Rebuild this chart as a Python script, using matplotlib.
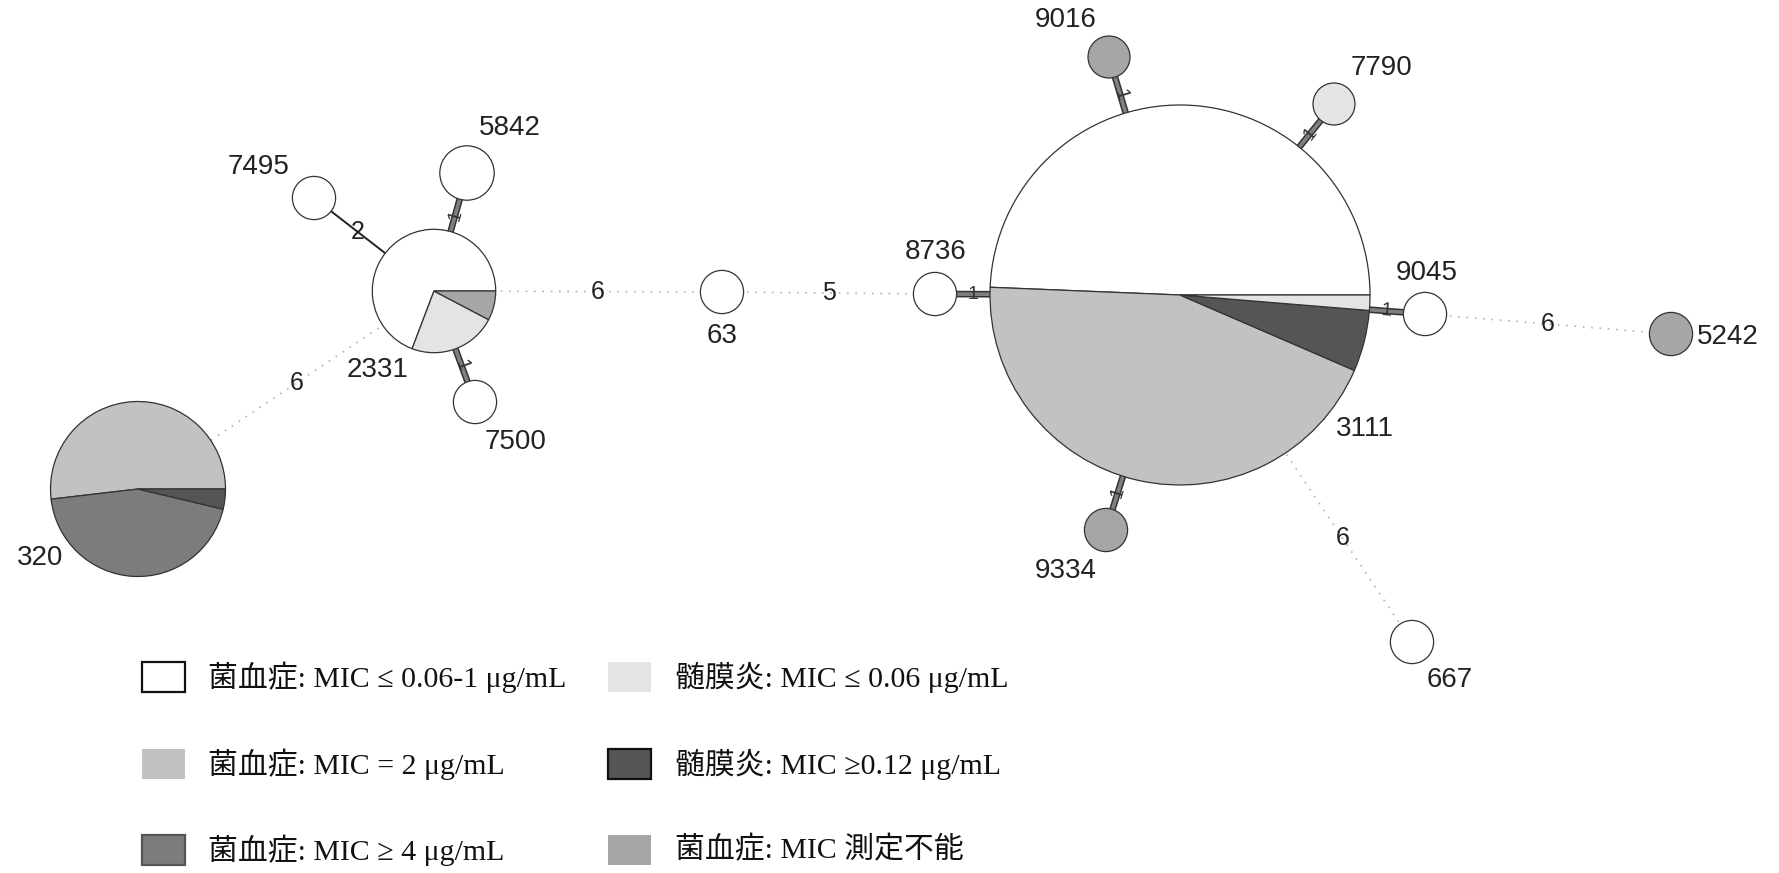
"""
MST 网络图（饼图节点）复刻
"""

import numpy as np
import matplotlib

matplotlib.use("Agg")
from matplotlib import pyplot as plt
from matplotlib.patches import Rectangle

W, H = 1779, 873

# 类别（图例）
categories = [
    "菌血症: MIC ≤ 0.06-1 μg/mL",
    "髄膜炎: MIC ≤ 0.06 μg/mL",
    "菌血症: MIC = 2 μg/mL",
    "髄膜炎: MIC ≥0.12 μg/mL",
    "菌血症: MIC ≥ 4 μg/mL",
    "菌血症: MIC 測定不能",
]
category_colors = ["#ffffff", "#e4e4e4", "#c2c2c2", "#555555", "#7c7c7c", "#a6a6a6"]
legend_edges = ["#111111", "none", "none", "#111111", "#555555", "none"]

# 节点（ST）及其组成：类别索引 + 分离株数（按饼图绘制顺序）
node_names = ["7495", "5842", "2331", "7500", "320", "63", "8736",
              "3111", "9016", "7790", "9045", "5242", "9334", "667"]
node_cats = [[0], [0], [0, 1, 5], [0], [2, 4, 3], [0], [0],
             [0, 2, 3, 1], [5], [1], [0], [5], [5], [0]]
node_counts = [[1], [2], [9, 3, 1], [1], [14, 12, 1], [1], [1],
               [38, 34, 4, 1], [1], [1], [1], [1], [1], [1]]

# 布局（像素坐标，左上为原点）
node_x = [314, 467, 434, 475, 138, 722, 935, 1180, 1109, 1334, 1425, 1671, 1106, 1412]
node_y = [198, 173, 291, 402, 489, 292, 294, 295, 57, 104, 314, 334, 530, 642]
node_r = [21.6, 27.2, 61.7, 21.6, 87.5, 21.6, 21.6, 190, 21, 21, 21.6, 21.6, 21.6, 21.6]
label_dx = [-55, 43, -56, 41, -98, 0, 1, 185, -43, 48, 2, 57, -40, 38]
label_dy = [-31, -45, 79, 40, 69, 44, -42, 134, -37, -36, -41, 3, 41, 38]

# 边：起点、终点、等位基因差异数
edge_src = ["7495", "5842", "7500", "2331", "2331", "63", "8736",
            "3111", "3111", "3111", "3111", "9045", "3111"]
edge_dst = ["2331", "2331", "2331", "63", "320", "8736", "3111",
            "9016", "7790", "9045", "9334", "5242", "667"]
edge_dist = [2, 1, 1, 6, 6, 5, 1, 1, 1, 1, 1, 6, 6]

sans = ["Liberation Sans", "DejaVu Sans"]
serif_cjk = ["Liberation Serif", "Noto Sans CJK JP", "DejaVu Sans"]

fig = plt.figure(figsize=(W / 100, H / 100), dpi=100)
ax = fig.add_axes([0, 0, 1, 1])

idx = {name: i for i, name in enumerate(node_names)}

# 绘制边
for s, d, dist in zip(edge_src, edge_dst, edge_dist):
    i, j = idx[s], idx[d]
    x1, y1 = node_x[i], H - node_y[i]
    x2, y2 = node_x[j], H - node_y[j]
    length = np.hypot(x2 - x1, y2 - y1)
    # 两圆边界之间可见线段的中点
    t = (node_r[i] / length + 1 - node_r[j] / length) / 2
    mx, my = x1 + t * (x2 - x1), y1 + t * (y2 - y1)
    if dist == 1:
        ax.plot([x1, x2], [y1, y2], color="#333333", lw=4.8, zorder=1,
                solid_capstyle="butt")
        ax.plot([x1, x2], [y1, y2], color="#808080", lw=2.6, zorder=1.1,
                solid_capstyle="butt")
        ang = np.degrees(np.arctan2(y2 - y1, x2 - x1))
        if ang > 90:
            ang -= 180
        elif ang <= -90:
            ang += 180
        ax.text(mx, my, "1", fontsize=14, family=sans, color="#333333",
                rotation=ang, ha="center", va="center", zorder=1.2)
    elif dist == 2:
        ax.plot([x1, x2], [y1, y2], color="#222222", lw=1.4, zorder=1)
        ax.text(mx, my, str(dist), fontsize=18, family=sans, color="#222222",
                ha="center", va="center", zorder=4)
    else:
        ax.plot([x1, x2], [y1, y2], color="#b4b4b4", lw=1.2,
                linestyle=(0, (1, 4)), zorder=1)
        ax.text(mx, my, str(dist), fontsize=18, family=sans, color="#222222",
                ha="center", va="center", zorder=4)

# 绘制饼图节点
for i, name in enumerate(node_names):
    cx, cy = node_x[i], H - node_y[i]
    ax.pie(
        node_counts[i],
        colors=[category_colors[c] for c in node_cats[i]],
        center=(cx, cy),
        radius=node_r[i],
        startangle=0,
        counterclock=True,
        wedgeprops=dict(edgecolor="#333333", linewidth=0.9, zorder=3),
    )
    ax.text(cx + label_dx[i], cy - label_dy[i], name, fontsize=20, family=sans,
            color="#222222", ha="center", va="center", zorder=4)

# 图例（两列三行）
legend_cols = [[0, 2, 4], [1, 3, 5]]
row_y = [677, 764, 850]
patch_x = [142, 608]
text_x = [208, 675]
for col, cats in enumerate(legend_cols):
    for row, c in enumerate(cats):
        yc = H - row_y[row]
        ax.add_patch(
            Rectangle(
                (patch_x[col], yc - 14.7),
                43.4,
                29.4,
                facecolor=category_colors[c],
                edgecolor=legend_edges[c],
                linewidth=1.6,
                zorder=3,
            )
        )
        ax.text(text_x[col], yc, categories[c], fontsize=21.5, family=serif_cjk,
                color="#111111", ha="left", va="center", zorder=4)

ax.set_xlim(0, W)
ax.set_ylim(0, H)
ax.set_aspect("equal")
ax.axis("off")

fig.savefig("out.png", dpi=100, facecolor="white")
plt.close(fig)
